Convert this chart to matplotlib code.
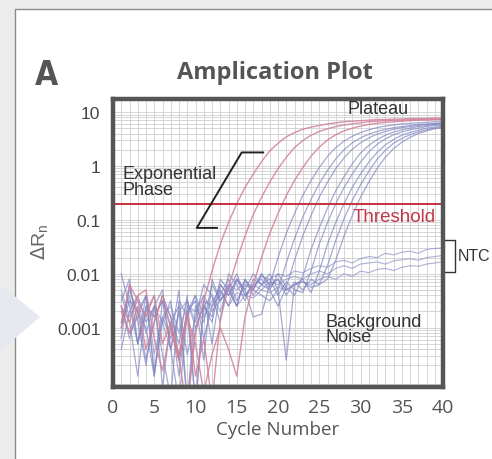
import matplotlib.pyplot as plt
import matplotlib.patches as mpatches
from matplotlib.ticker import FixedLocator, FixedFormatter, LogLocator, NullFormatter
import numpy as np

# cycle numbers 1..40
cycles = list(range(1, 41))

# log10(delta Rn), one value per cycle
red_1 = [-2.6, -2.9, -2.4, -2.3, -3.2, -3.8, -3.0, -3.6, -4.5, -3.1,
         -2.5, -1.95, -1.45, -1.05, -0.7, -0.4, -0.15, 0.08, 0.28, 0.42,
         0.54, 0.62, 0.68, 0.72, 0.75, 0.78, 0.8, 0.82, 0.83, 0.84,
         0.85, 0.86, 0.86, 0.87, 0.87, 0.88, 0.88, 0.88, 0.89, 0.89]
red_2 = [-3.0, -2.2, -2.5, -2.8, -2.4, -3.3, -2.9, -3.5, -2.7, -3.9,
         -3.2, -4.4, -2.85, -2.25, -1.75, -1.3, -0.9, -0.58, -0.3, -0.05,
         0.16, 0.34, 0.47, 0.57, 0.64, 0.69, 0.73, 0.76, 0.78, 0.8,
         0.82, 0.83, 0.84, 0.85, 0.85, 0.86, 0.86, 0.87, 0.87, 0.87]
red_3 = [-2.7, -3.1, -2.6, -3.4, -2.9, -2.4, -3.0, -3.6, -2.8, -3.3,
         -4.2, -3.5, -3.0, -3.4, -3.9, -2.8, -2.2, -1.7, -1.25, -0.88,
         -0.55, -0.27, -0.03, 0.18, 0.35, 0.48, 0.58, 0.65, 0.7, 0.74,
         0.77, 0.79, 0.81, 0.82, 0.83, 0.84, 0.85, 0.85, 0.86, 0.86]

blue_1 = [-2.0, -2.6, -3.3, -2.4, -3.9, -2.8, -3.2, -2.3, -4.4, -3.0,
          -2.6, -2.9, -2.2, -2.4, -2.1, -2.3, -2.8, -2.75, -2.2, -1.7,
          -1.25, -0.88, -0.55, -0.27, -0.03, 0.18, 0.34, 0.46, 0.55, 0.62,
          0.67, 0.71, 0.74, 0.76, 0.78, 0.79, 0.8, 0.81, 0.82, 0.82]
blue_2 = [-3.2, -2.2, -2.9, -3.7, -2.6, -2.3, -3.4, -4.4, -2.7, -2.5,
          -3.6, -2.1, -2.5, -2.2, -2.6, -2.1, -2.3, -2.4, -2.5, -2.3,
          -1.8, -1.35, -0.95, -0.62, -0.33, -0.08, 0.13, 0.3, 0.43, 0.52,
          0.59, 0.64, 0.68, 0.71, 0.73, 0.75, 0.77, 0.78, 0.79, 0.8]
blue_3 = [-2.5, -2.1, -3.3, -2.7, -2.4, -4.1, -2.9, -2.6, -3.5, -2.8,
          -2.2, -2.4, -2.9, -2.0, -2.2, -2.5, -2.1, -2.2, -2.3, -2.6,
          -2.25, -1.75, -1.3, -0.92, -0.58, -0.3, -0.05, 0.15, 0.31, 0.43,
          0.52, 0.59, 0.64, 0.68, 0.71, 0.73, 0.75, 0.77, 0.78, 0.79]
blue_4 = [-2.9, -2.3, -2.7, -3.0, -3.9, -2.5, -2.8, -3.3, -2.4, -4.5,
          -2.6, -2.8, -2.1, -2.3, -2.0, -2.4, -2.2, -2.1, -2.3, -2.0,
          -2.25, -2.4, -2.05, -1.55, -1.15, -0.78, -0.46, -0.2, 0.04, 0.24,
          0.38, 0.49, 0.57, 0.63, 0.67, 0.7, 0.73, 0.75, 0.77, 0.78]
blue_5 = [-3.4, -2.7, -2.4, -2.9, -2.6, -3.5, -4.3, -2.5, -2.8, -2.4,
          -3.2, -2.6, -2.2, -2.4, -2.1, -2.3, -2.0, -2.2, -2.1, -2.4,
          -2.15, -2.3, -2.35, -1.95, -1.45, -1.05, -0.7, -0.4, -0.15, 0.07,
          0.26, 0.4, 0.5, 0.58, 0.63, 0.67, 0.7, 0.73, 0.75, 0.76]
blue_6 = [-2.6, -3.1, -2.8, -2.4, -3.8, -2.9, -2.5, -3.6, -2.7, -4.4,
          -2.5, -2.6, -2.4, -2.1, -2.5, -2.2, -2.3, -2.0, -2.2, -2.1,
          -2.3, -2.2, -2.1, -2.35, -1.95, -1.45, -1.05, -0.7, -0.4, -0.15,
          0.07, 0.25, 0.39, 0.49, 0.57, 0.62, 0.66, 0.7, 0.72, 0.74]
blue_7 = [-2.4, -2.9, -3.9, -2.6, -2.8, -2.5, -3.4, -2.7, -4.4, -2.6,
          -2.9, -2.2, -2.5, -2.3, -2.6, -2.1, -2.4, -2.2, -2.0, -2.3,
          -3.6, -2.2, -2.15, -2.25, -2.2, -1.85, -1.38, -0.98, -0.64, -0.35,
          -0.1, 0.12, 0.29, 0.42, 0.51, 0.58, 0.63, 0.67, 0.7, 0.72]
blue_8 = [-3.0, -2.5, -2.7, -3.6, -2.9, -2.4, -2.8, -3.9, -2.6, -2.7,
          -2.4, -3.3, -2.3, -2.6, -2.1, -2.4, -2.3, -2.0, -2.25, -2.1,
          -2.4, -2.15, -2.3, -2.1, -2.2, -2.1, -1.75, -1.3, -0.92, -0.58,
          -0.3, -0.05, 0.16, 0.32, 0.44, 0.53, 0.6, 0.65, 0.69, 0.71]

ntc_1 = [-2.3, -2.8, -2.5, -3.1, -2.6, -2.9, -3.4, -2.7, -2.5, -3.0,
         -2.6, -2.4, -2.7, -2.2, -2.3, -2.15, -2.25, -2.05, -2.1, -2.0,
         -2.05, -1.95, -1.98, -1.9, -1.85, -1.88, -1.78, -1.75, -1.8, -1.72,
         -1.68, -1.7, -1.62, -1.65, -1.6, -1.58, -1.62, -1.55, -1.53, -1.52]
ntc_2 = [-2.9, -2.4, -3.3, -2.6, -2.8, -2.5, -3.0, -3.6, -2.7, -2.4,
         -2.8, -2.5, -2.3, -2.6, -2.35, -2.4, -2.2, -2.3, -2.15, -2.2,
         -2.1, -2.05, -2.1, -2.0, -1.95, -2.0, -1.9, -1.85, -1.9, -1.82,
         -1.8, -1.78, -1.82, -1.76, -1.74, -1.72, -1.75, -1.7, -1.68, -1.66]
ntc_3 = [-2.6, -3.2, -2.7, -2.4, -3.5, -2.8, -2.6, -3.1, -2.5, -2.9,
         -2.4, -2.7, -2.5, -2.3, -2.6, -2.4, -2.45, -2.3, -2.35, -2.25,
         -2.3, -2.2, -2.15, -2.2, -2.1, -2.05, -2.1, -2.0, -2.05, -1.95,
         -1.98, -1.92, -1.9, -1.94, -1.88, -1.85, -1.86, -1.82, -1.8, -1.78]

red_curves = [red_1, red_2, red_3]
blue_curves = [blue_1, blue_2, blue_3, blue_4, blue_5, blue_6, blue_7, blue_8]
ntc_curves = [ntc_1, ntc_2, ntc_3]

threshold = 0.2
x_ticks = [0, 5, 10, 15, 20, 25, 30, 35, 40]
y_ticks = [10, 1, 0.1, 0.01, 0.001]
y_tick_labels = ['10', '1', '0.1', '0.01', '0.001']

fig = plt.figure(figsize=(4.92, 4.60), dpi=100)
fig.patch.set_facecolor('#ececec')

# white card behind everything
card = mpatches.Rectangle((15 / 492, -0.05), 1.0, 1 - 10 / 460 + 0.05,
                          transform=fig.transFigure, facecolor='white',
                          edgecolor='#8a8a8a', lw=1.0, zorder=-10)
fig.patches.append(card)
wedge = mpatches.Polygon([(0, 1 - 285 / 460), (40 / 492, 1 - 318 / 460), (0, 1 - 352 / 460)],
                         closed=True, transform=fig.transFigure,
                         facecolor='#e6eaf0', edgecolor='none', zorder=-9)
fig.patches.append(wedge)

ax = fig.add_axes([113 / 492, 1 - 388 / 460, 330 / 492, 288 / 460])
ax.set_yscale('log')
ax.set_xlim(0, 40)
ax.set_ylim(10 ** -4.1, 10 ** 1.242)

# dense background grid
ax.xaxis.set_minor_locator(FixedLocator(list(range(0, 41))))
ax.yaxis.set_minor_locator(LogLocator(base=10, subs=np.arange(2, 10)))
ax.yaxis.set_minor_formatter(NullFormatter())
ax.grid(True, which='both', color='#cfcfcf', lw=0.6)
ax.set_axisbelow(True)

for vals in ntc_curves:
    ax.plot(cycles, 10 ** np.array(vals), color='#8b8fc6', lw=0.8, alpha=0.7)
for vals in blue_curves:
    ax.plot(cycles, 10 ** np.array(vals), color='#8085c2', lw=0.9, alpha=0.7)
for vals in red_curves:
    ax.plot(cycles, 10 ** np.array(vals), color='#d27f98', lw=1.0, alpha=0.85)

ax.axhline(threshold, color='#c9303e', lw=1.4)

ax.set_xticks(x_ticks)
ax.set_xticklabels([str(t) for t in x_ticks], fontfamily='Open Sans',
                   fontsize=14, color='#555555')
ax.yaxis.set_major_locator(FixedLocator(y_ticks))
ax.yaxis.set_major_formatter(FixedFormatter(y_tick_labels))
for lab in ax.get_yticklabels():
    lab.set_fontfamily('Liberation Sans')
    lab.set_fontsize(12.5)
    lab.set_color('#444444')
ax.tick_params(which='both', length=0)
ax.tick_params(axis='x', pad=8)
ax.tick_params(axis='y', pad=9)

for sp in ax.spines.values():
    sp.set_color('#555555')
    sp.set_linewidth(3.2)

ax.set_xlabel('Cycle Number', fontfamily='Open Sans', fontsize=13.5,
              color='#555555', labelpad=3)

# annotations
txt = dict(fontfamily='Liberation Sans', fontsize=13, color='#333333')
ax.text(32.1, 11.8, 'Plateau', ha='center', va='center', **txt)
ax.text(1.2, 0.51, 'Exponential\nPhase', ha='left', va='center',
        linespacing=0.9, **txt)
ax.plot([18.2, 15.6, 10.15, 12.6], [1.78, 1.78, 0.071, 0.071],
        color='#222222', lw=1.4)
ax.text(34.1, 0.115, 'Threshold', ha='center', va='center',
        fontfamily='Liberation Sans', fontsize=13.5, color='#c0394b')
ax.text(25.7, 0.00095, 'Background\nNoise', ha='left', va='center',
        linespacing=0.9, **txt)
ax.plot([40.3, 41.45, 41.45, 40.3], [0.043, 0.043, 0.011, 0.011],
        color='#333333', lw=1.0, clip_on=False)
ax.text(41.8, 0.0217, 'NTC', ha='left', va='center', clip_on=False,
        fontfamily='Liberation Sans', fontsize=11.5, color='#333333')

fig.text(40 / 492, 1 - 242 / 460, r'$\Delta\mathregular{R_n}$', rotation=90,
         ha='center', va='center', fontsize=14, color='#666666',
         fontfamily='Liberation Sans')
fig.text(275 / 492, 1 - 73 / 460, 'Amplication Plot', ha='center', va='center',
         fontfamily='Open Sans', fontweight='bold', fontsize=17, color='#555555')
fig.text(46 / 492, 1 - 76 / 460, 'A', ha='center', va='center',
         fontfamily='DejaVu Sans', fontstretch='condensed', fontweight='bold',
         fontsize=24, color='#555555')

fig.savefig('out.png', dpi=100, facecolor=fig.get_facecolor())
